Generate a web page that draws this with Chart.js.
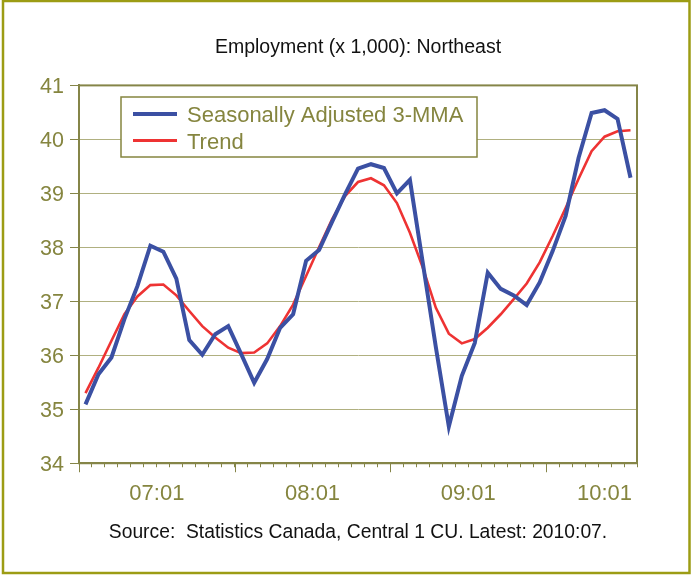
<!DOCTYPE html>
<html>
<head>
<meta charset="utf-8">
<title>Employment Northeast</title>
<script src="https://cdn.jsdelivr.net/npm/chart.js@4.4.0/dist/chart.umd.min.js"></script>
<style>
  body { margin: 0; background: #fff; }
  canvas { display: block; }
</style>
</head>
<body>
<canvas id="myChart" width="691" height="575"></canvas>
<script>
// monthly series, 2007:01 - 2010:07
var months = [
  '07:01','07:02','07:03','07:04','07:05','07:06','07:07','07:08','07:09','07:10','07:11','07:12',
  '08:01','08:02','08:03','08:04','08:05','08:06','08:07','08:08','08:09','08:10','08:11','08:12',
  '09:01','09:02','09:03','09:04','09:05','09:06','09:07','09:08','09:09','09:10','09:11','09:12',
  '10:01','10:02','10:03','10:04','10:05','10:06','10:07'
];
var seasAdj = [
  35.09, 35.65, 35.96, 36.67, 37.28, 38.03, 37.92, 37.42, 36.28, 36.01, 36.39, 36.54,
  36.02, 35.49, 35.93, 36.51, 36.76, 37.75, 37.95, 38.47, 38.98, 39.46, 39.54, 39.47,
  39.00, 39.25, 37.70, 36.15, 34.68, 35.62, 36.23, 37.53, 37.23, 37.11, 36.93, 37.35,
  37.93, 38.58, 39.66, 40.49, 40.54, 40.38, 39.29
];
var trend = [
  35.30, 35.77, 36.27, 36.76, 37.09, 37.30, 37.31, 37.11, 36.82, 36.54, 36.33, 36.14,
  36.04, 36.05, 36.22, 36.54, 36.94, 37.47, 38.00, 38.52, 38.95, 39.21, 39.28, 39.15,
  38.82, 38.27, 37.62, 36.88, 36.40, 36.22, 36.30, 36.51, 36.76, 37.04, 37.33, 37.72,
  38.21, 38.73, 39.27, 39.78, 40.05, 40.15, 40.17
];
var yearLabels = ['07:01', '08:01', '09:01', '10:01'];
var seriesNames = ['Seasonally Adjusted 3-MMA', 'Trend'];

var FONT = '"Liberation Sans", Arial, sans-serif';
var olive = '#85853f';
var axisColor = '#858548';
var gridColor = '#b0b080';
var frameColor = '#9c9c14';
var blue = '#3b50a3';
var red = '#ee3333';

function toPoints(arr) {
  return arr.map(function (v, i) { return { x: i, y: v }; });
}

// year label sits in the middle of its 12 months, kept inside the axis
var lastIdx = months.length - 1;
var yearPos = {};
yearLabels.forEach(function (lab) {
  var s = months.indexOf(lab);
  yearPos[Math.min(s + 5.5, lastIdx - 2)] = lab;
});

var framePlugin = {
  id: 'frame',
  beforeDraw: function (chart) {
    var c = chart.ctx;
    c.save();
    c.fillStyle = '#fff';
    c.fillRect(0, 0, chart.width, chart.height);
    c.restore();
  },
  afterDraw: function (chart) {
    var c = chart.ctx, a = chart.chartArea, xs = chart.scales.x;
    c.save();
    // plot area box
    c.strokeStyle = axisColor;
    c.lineWidth = 2;
    c.strokeRect(a.left, a.top, a.right - a.left, a.bottom - a.top);
    // longer ticks at each year boundary
    c.lineWidth = 1;
    months.forEach(function (m, i) {
      if (m.slice(3) === '01') {
        var px = Math.round(xs.getPixelForValue(i - 0.5)) + 0.5;
        c.beginPath();
        c.moveTo(px, a.bottom);
        c.lineTo(px, a.bottom + 9);
        c.stroke();
      }
    });
    // legend box
    var lx = 121, ly = 97, lw = 356, lh = 60;
    c.fillStyle = '#fff';
    c.fillRect(lx, ly, lw, lh);
    c.strokeStyle = olive;
    c.lineWidth = 1.5;
    c.strokeRect(lx, ly, lw, lh);
    var rows = [[blue, 4, 114], [red, 3, 140.5]];
    c.font = '22px ' + FONT;
    c.textBaseline = 'middle';
    rows.forEach(function (r, k) {
      c.strokeStyle = r[0];
      c.lineWidth = r[1];
      c.beginPath();
      c.moveTo(133, r[2]);
      c.lineTo(177, r[2]);
      c.stroke();
      c.fillStyle = olive;
      c.fillText(seriesNames[k], 187, r[2] + 2);
    });
    // outer frame
    c.strokeStyle = frameColor;
    c.lineWidth = 2.5;
    c.strokeRect(3, 1, chart.width - 4.5, chart.height - 3);
    c.restore();
  }
};

var ctx = document.getElementById('myChart').getContext('2d');
var myChart = new Chart(ctx, {
  type: 'line',
  data: {
    datasets: [
      {
        label: seriesNames[0],
        data: toPoints(seasAdj),
        borderColor: blue,
        borderWidth: 4,
        pointRadius: 0,
        tension: 0
      },
      {
        label: seriesNames[1],
        data: toPoints(trend),
        borderColor: red,
        borderWidth: 2.6,
        pointRadius: 0,
        tension: 0
      }
    ]
  },
  options: {
    responsive: false,
    animation: false,
    layout: { padding: { top: 10, right: 54, bottom: 10, left: 0 } },
    plugins: {
      legend: { display: false },
      tooltip: { enabled: false },
      title: {
        display: true,
        fullSize: false,
        text: 'Employment (x 1,000): Northeast',
        color: '#111',
        font: { family: FONT, size: 19.5, weight: 'normal' },
        padding: { top: 26, bottom: 26 }
      },
      subtitle: {
        display: true,
        fullSize: false,
        position: 'bottom',
        text: 'Source:  Statistics Canada, Central 1 CU. Latest: 2010:07.',
        color: '#111',
        font: { family: FONT, size: 19.3, weight: 'normal' },
        padding: { top: 18, bottom: 20.6 }
      }
    },
    scales: {
      x: {
        type: 'linear',
        min: -0.5,
        max: lastIdx + 0.5,
        afterBuildTicks: function (scale) {
          var t = [];
          for (var i = 0; i <= months.length; i++) t.push(i - 0.5);
          Object.keys(yearPos).forEach(function (k) {
            if (t.indexOf(+k) < 0) t.push(+k);
          });
          t.sort(function (p, q) { return p - q; });
          scale.ticks = t.map(function (v) { return { value: v }; });
        },
        afterFit: function (scale) { scale.height = 40; },
        grid: {
          drawOnChartArea: false,
          tickLength: 4,
          tickColor: function (c) {
            var v = c.tick ? c.tick.value : 0;
            return Math.abs(v - Math.round(v)) === 0.5 ? axisColor : 'rgba(0,0,0,0)';
          }
        },
        border: { color: axisColor, width: 2 },
        ticks: {
          autoSkip: false,
          maxRotation: 0,
          padding: 13,
          color: olive,
          font: { family: FONT, size: 22 },
          callback: function (value) { return yearPos[value] || ''; }
        }
      },
      y: {
        min: 34,
        max: 41,
        afterFit: function (scale) { scale.width = 79; },
        grid: { color: gridColor, tickColor: axisColor, tickLength: 9 },
        border: { color: axisColor, width: 2 },
        ticks: {
          stepSize: 1,
          padding: 6,
          labelOffset: 2,
          color: olive,
          font: { family: FONT, size: 21.5 }
        }
      }
    }
  },
  plugins: [framePlugin]
});
</script>
</body>
</html>
